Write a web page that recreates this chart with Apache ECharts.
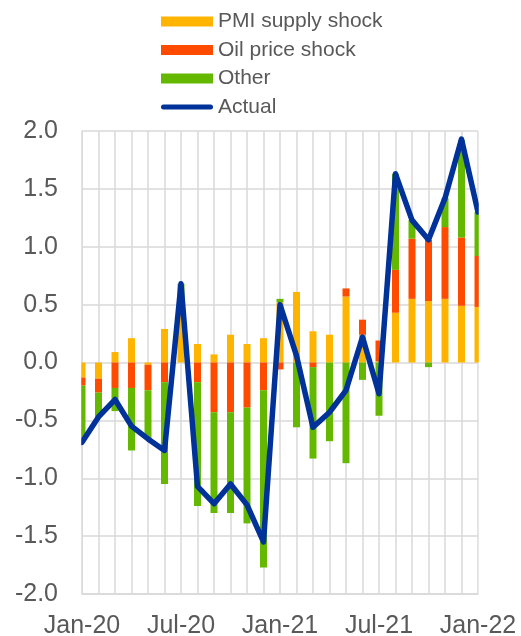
<!DOCTYPE html>
<html>
<head>
<meta charset="utf-8">
<script src="https://cdn.jsdelivr.net/npm/echarts@6/dist/echarts.min.js"></script>
<style>
  html, body { margin: 0; padding: 0; background: #fff; }
  #main { width: 521px; height: 636px; }
</style>
</head>
<body>
<div id="main"></div>
<script>
// monthly categories
var months = ['Jan-20','Feb-20','Mar-20','Apr-20','May-20','Jun-20','Jul-20','Aug-20','Sep-20','Oct-20','Nov-20','Dec-20',
              'Jan-21','Feb-21','Mar-21','Apr-21','May-21','Jun-21','Jul-21','Aug-21','Sep-21','Oct-21','Nov-21','Dec-21','Jan-22'];
var pmiShock = [-0.13, -0.14, 0.09, 0.21, -0.02, 0.29, 0.45, 0.16, 0.07, 0.24, 0.16, 0.21,
                0.52, 0.61, 0.27, 0.24, 0.57, 0.24, 0.01, 0.43, 0.55, 0.53, 0.55, 0.49, 0.48];
var oilShock = [-0.07, -0.12, -0.22, -0.22, -0.22, -0.17, 0, -0.17, -0.43, -0.43, -0.39, -0.24,
                -0.06, 0, -0.04, 0, 0.07, 0.13, 0.18, 0.37, 0.52, 0.53, 0.62, 0.59, 0.44];
var other = [-0.48, -0.21, -0.20, -0.54, -0.42, -0.88, 0.23, -1.07, -0.87, -0.87, -1.00, -1.53,
             0.03, -0.56, -0.79, -0.68, -0.87, -0.15, -0.46, 0.83, 0.16, -0.04, 0.25, 0.84, 0.38];
var actual = [-0.69, -0.47, -0.32, -0.55, -0.66, -0.76, 0.68, -1.07, -1.22, -1.05, -1.23, -1.55,
              0.50, 0.06, -0.56, -0.43, -0.24, 0.22, -0.27, 1.63, 1.23, 1.06, 1.42, 1.93, 1.30];

var W = 521, H = 636;
var gLeft = 82, gRight = 43, gTop = 131, gBottom = 42;

var chart = echarts.init(document.getElementById('main'));
var grey = '#595959';
var gridCol = '#d9d9d9';

// white strips hide the halves of the first/last bars that stick out of the plot (like excel does)
var masks = [
    { type: 'rect', z: 10, shape: { x: gLeft - 12, y: gTop - 2, width: 11.2, height: H - gTop - gBottom + 4 }, style: { fill: '#fff' } },
    { type: 'rect', z: 10, shape: { x: W - gRight + 0.8, y: gTop - 2, width: 11.2, height: H - gTop - gBottom + 4 }, style: { fill: '#fff' } }
];

var option = {
    animation: false,
    textStyle: { fontFamily: 'Liberation Sans, Arial, sans-serif' },
    graphic: masks,
    legend: {
        orient: 'vertical',
        left: 161,
        top: 11,
        padding: 0,
        itemWidth: 52,
        itemHeight: 10,
        itemGap: 7.5,
        textStyle: { color: grey, fontSize: 21 },
        data: [
            { name: 'PMI supply shock', icon: 'rect' },
            { name: 'Oil price shock', icon: 'rect' },
            { name: 'Other', icon: 'rect' },
            { name: 'Actual', icon: 'path://M2.5,0 L49.5,0 A2.5,2.5 0 0 1 49.5,5 L2.5,5 A2.5,2.5 0 0 1 2.5,0 Z' }
        ]
    },
    grid: {
        left: gLeft,
        right: gRight,
        top: gTop,
        bottom: gBottom,
        outerBoundsMode: 'none'
    },
    xAxis: {
        type: 'category',
        data: months,
        boundaryGap: false,
        axisLine: { onZero: false, lineStyle: { color: gridCol, width: 1.5 } },
        axisTick: { show: false },
        axisLabel: { interval: 5, color: grey, fontSize: 25, margin: 20 },
        splitLine: { show: true, interval: 0, lineStyle: { color: gridCol, width: 1.5 } }
    },
    yAxis: {
        type: 'value',
        min: -2,
        max: 2,
        interval: 0.5,
        axisLine: { show: true, lineStyle: { color: gridCol, width: 1.5 } },
        axisTick: { show: false },
        axisLabel: {
            color: grey, fontSize: 25, margin: 24,
            formatter: function (v) { return v.toFixed(1); }
        },
        splitLine: { lineStyle: { color: gridCol, width: 1.5 } }
    },
    series: [
        {
            name: 'PMI supply shock',
            type: 'bar',
            stack: 'total',
            barWidth: 7,
            itemStyle: { color: '#FFB400' },
            data: pmiShock
        },
        {
            name: 'Oil price shock',
            type: 'bar',
            stack: 'total',
            barWidth: 7,
            itemStyle: { color: '#FF4B00' },
            data: oilShock
        },
        {
            name: 'Other',
            type: 'bar',
            stack: 'total',
            barWidth: 7,
            itemStyle: { color: '#65B800' },
            data: other
        },
        {
            name: 'Actual',
            type: 'line',
            symbol: 'none',
            z: 5,
            lineStyle: { color: '#003299', width: 5.5, cap: 'round', join: 'round' },
            itemStyle: { color: '#003299' },
            data: actual
        }
    ]
};
chart.setOption(option);
</script>
</body>
</html>
